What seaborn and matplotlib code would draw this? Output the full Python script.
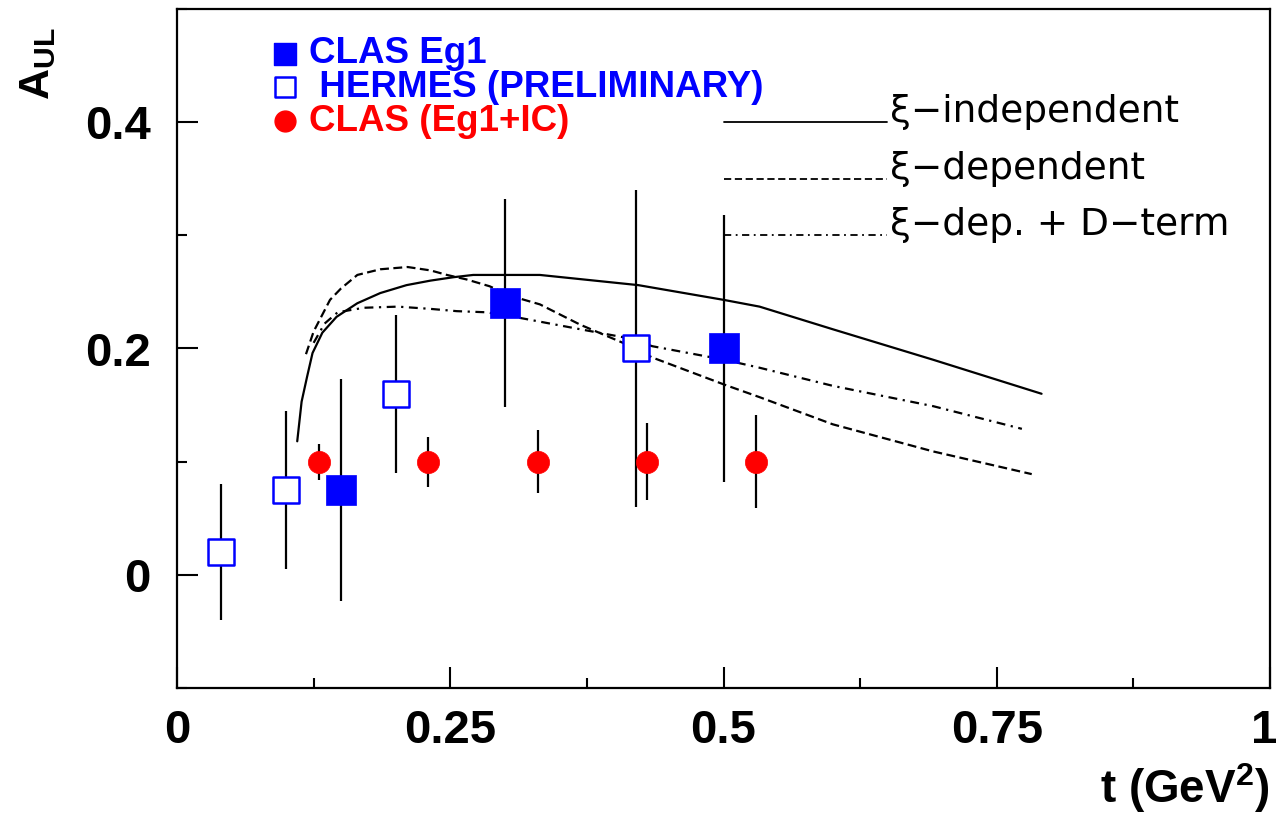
import matplotlib
matplotlib.use("Agg")
import matplotlib.pyplot as plt
import matplotlib.transforms as mtransforms
import seaborn as sns
import numpy as np
import pandas as pd

# ---------------- data ----------------
hermes_t = [0.04, 0.10, 0.20, 0.42]
hermes_a = [0.02, 0.075, 0.16, 0.20]
hermes_err = [0.06, 0.07, 0.07, 0.14]

clas_t = [0.15, 0.30, 0.50]
clas_a = [0.075, 0.24, 0.20]
clas_err = [0.098, 0.092, 0.118]

ic_t = [0.13, 0.23, 0.33, 0.43, 0.53]
ic_a = [0.10, 0.10, 0.10, 0.10, 0.10]
ic_err = [0.016, 0.022, 0.028, 0.034, 0.041]

indep_t = [0.110, 0.114, 0.119, 0.124, 0.133, 0.146, 0.165, 0.186, 0.210, 0.232,
           0.253, 0.271, 0.332, 0.422, 0.500, 0.533, 0.600, 0.692, 0.791]
indep_a = [0.118, 0.153, 0.175, 0.196, 0.214, 0.228, 0.240, 0.249, 0.256, 0.260,
           0.263, 0.265, 0.265, 0.256, 0.243, 0.237, 0.217, 0.190, 0.160]

dep_t = [0.118, 0.125, 0.140, 0.150, 0.165, 0.186, 0.211, 0.232, 0.247, 0.265,
         0.286, 0.307, 0.332, 0.369, 0.408, 0.435, 0.501, 0.533, 0.600, 0.692, 0.782]
dep_a = [0.195, 0.215, 0.243, 0.253, 0.265, 0.270, 0.272, 0.269, 0.265, 0.261,
         0.255, 0.246, 0.239, 0.221, 0.205, 0.192, 0.168, 0.157, 0.133, 0.109, 0.089]

dterm_t = [0.125, 0.135, 0.147, 0.171, 0.202, 0.232, 0.256, 0.283, 0.314, 0.369,
           0.408, 0.435, 0.501, 0.533, 0.600, 0.692, 0.773]
dterm_a = [0.205, 0.222, 0.232, 0.236, 0.237, 0.235, 0.233, 0.232, 0.227, 0.217,
           0.210, 0.202, 0.190, 0.183, 0.167, 0.149, 0.129]

x_ticks = [0, 0.25, 0.5, 0.75, 1]
x_ticklabels = ["0", "0.25", "0.5", "0.75", "1"]
y_ticks = [0, 0.2, 0.4]
y_ticklabels = ["0", "0.2", "0.4"]

legend_labels = ["CLAS Eg1", " HERMES (PRELIMINARY)", "CLAS (Eg1+IC)"]
curve_labels = ["\u03be\u2212independent", "\u03be\u2212dependent", "\u03be\u2212dep. + D\u2212term"]
curve_key_y = [0.40, 0.35, 0.30]

# ---------------- style ----------------
sns.set_theme(style="white")
plt.rcParams["font.family"] = ["Liberation Sans", "DejaVu Sans"]
plt.rcParams["mathtext.fontset"] = "custom"
plt.rcParams["mathtext.rm"] = "Liberation Sans"
plt.rcParams["mathtext.bf"] = "Liberation Sans:bold"
for k in ["text.color", "axes.labelcolor", "xtick.color", "ytick.color", "axes.edgecolor"]:
    plt.rcParams[k] = "black"

fig = plt.figure(figsize=(12.8, 8.13), dpi=100)
ax = fig.add_axes([177 / 1280, 1 - 688 / 813, (1270 - 177) / 1280, (688 - 9) / 813])

ax.set_xlim(0, 1)
ax.set_ylim(-0.1, 0.5)

# theory curves
lw = 1.6
sns.lineplot(x=indep_t, y=indep_a, ax=ax, color="black", lw=lw, linestyle="-")
sns.lineplot(x=dep_t, y=dep_a, ax=ax, color="black", lw=lw, linestyle=(0, (4, 2)))
sns.lineplot(x=dterm_t, y=dterm_a, ax=ax, color="black", lw=lw, linestyle=(0, (4, 2.5, 1, 2.5)))

# error bars
for t, a, e in [(hermes_t, hermes_a, hermes_err), (clas_t, clas_a, clas_err), (ic_t, ic_a, ic_err)]:
    ax.errorbar(t, a, yerr=e, fmt="none", ecolor="black", elinewidth=1.6, capsize=0, zorder=3)

# markers
sns.scatterplot(x=hermes_t, y=hermes_a, ax=ax, marker="s", s=19 ** 2, facecolor="white",
                edgecolor="blue", linewidth=1.8, zorder=4)
sns.scatterplot(x=clas_t, y=clas_a, ax=ax, marker="s", s=21 ** 2, color="blue",
                edgecolor="blue", linewidth=0.5, zorder=4)
sns.scatterplot(x=ic_t, y=ic_a, ax=ax, marker="o", s=16 ** 2, color="red",
                edgecolor="red", linewidth=0.5, zorder=4)

# in-plot marker legend
leg_y = [0.4605, 0.431, 0.401]
leg_mx = 0.099
ax.scatter([leg_mx], [leg_y[0]], marker="s", s=16 ** 2, color="blue", edgecolor="blue", zorder=5)
ax.scatter([leg_mx], [leg_y[1]], marker="s", s=14 ** 2, facecolor="white", edgecolor="blue",
           linewidth=1.8, zorder=5)
ax.scatter([leg_mx], [leg_y[2]], marker="o", s=15 ** 2, color="red", edgecolor="red", zorder=5)
leg_colors = ["blue", "blue", "red"]
for yy, lab, c in zip(leg_y, legend_labels, leg_colors):
    ax.text(0.121, yy, lab, color=c, fontsize=26.5, fontweight="bold", va="center", ha="left")

# curve key
styles = ["-", (0, (4, 2)), (0, (4, 2.5, 1, 2.5))]
for yy, lab, ls in zip(curve_key_y, curve_labels, styles):
    sns.lineplot(x=[0.5, 0.65], y=[yy, yy], ax=ax, color="black", lw=1.3, linestyle=ls)
    ax.text(0.652, yy, lab, fontsize=27, family=["DejaVu Sans"], va="baseline", ha="left",
            color="black")

# axes styling
for sp in ax.spines.values():
    sp.set_color("black")
    sp.set_linewidth(1.6)
    sp.set_visible(True)

ax.set_xticks(x_ticks)
ax.set_xticklabels(x_ticklabels)
ax.set_xticks([0.125, 0.375, 0.625, 0.875], minor=True)
ax.set_yticks(y_ticks)
ax.set_yticklabels(y_ticklabels)
ax.set_yticks([-0.1, 0.1, 0.3, 0.5], minor=True)
ax.tick_params(axis="x", which="major", pad=15)
ax.tick_params(axis="y", which="major", pad=19)
ax.tick_params(axis="both", which="major", direction="in", length=15, width=1.5, color="black",
               labelcolor="black", labelsize=34, bottom=True, left=True, top=False,
               right=False)
ax.tick_params(axis="both", which="minor", direction="in", length=7.5, width=1.5, color="black",
               bottom=True, left=True, top=False, right=False)
for lab in ax.get_xticklabels() + ax.get_yticklabels():
    lab.set_fontweight("bold")
# nudge the last x label ("1") slightly left so it stays inside the canvas
last = ax.get_xticklabels()[-1]
last.set_transform(last.get_transform() + mtransforms.ScaledTranslation(-6 / 100, 0, fig.dpi_scale_trans))
ax.set_xlabel("")
ax.set_ylabel("")

fig.text(1270 / 1280, 1 - 788 / 813, "t (GeV$^{\\mathbf{2}}$)", fontsize=33, fontweight="bold",
         ha="right", va="center", color="black")
fig.text(38 / 1280, 1 - 64 / 813, "$\\mathbf{A_{UL}}$", fontsize=31, rotation=90,
         ha="center", va="center", color="black")

fig.savefig("out.png", dpi=100, facecolor="white")
